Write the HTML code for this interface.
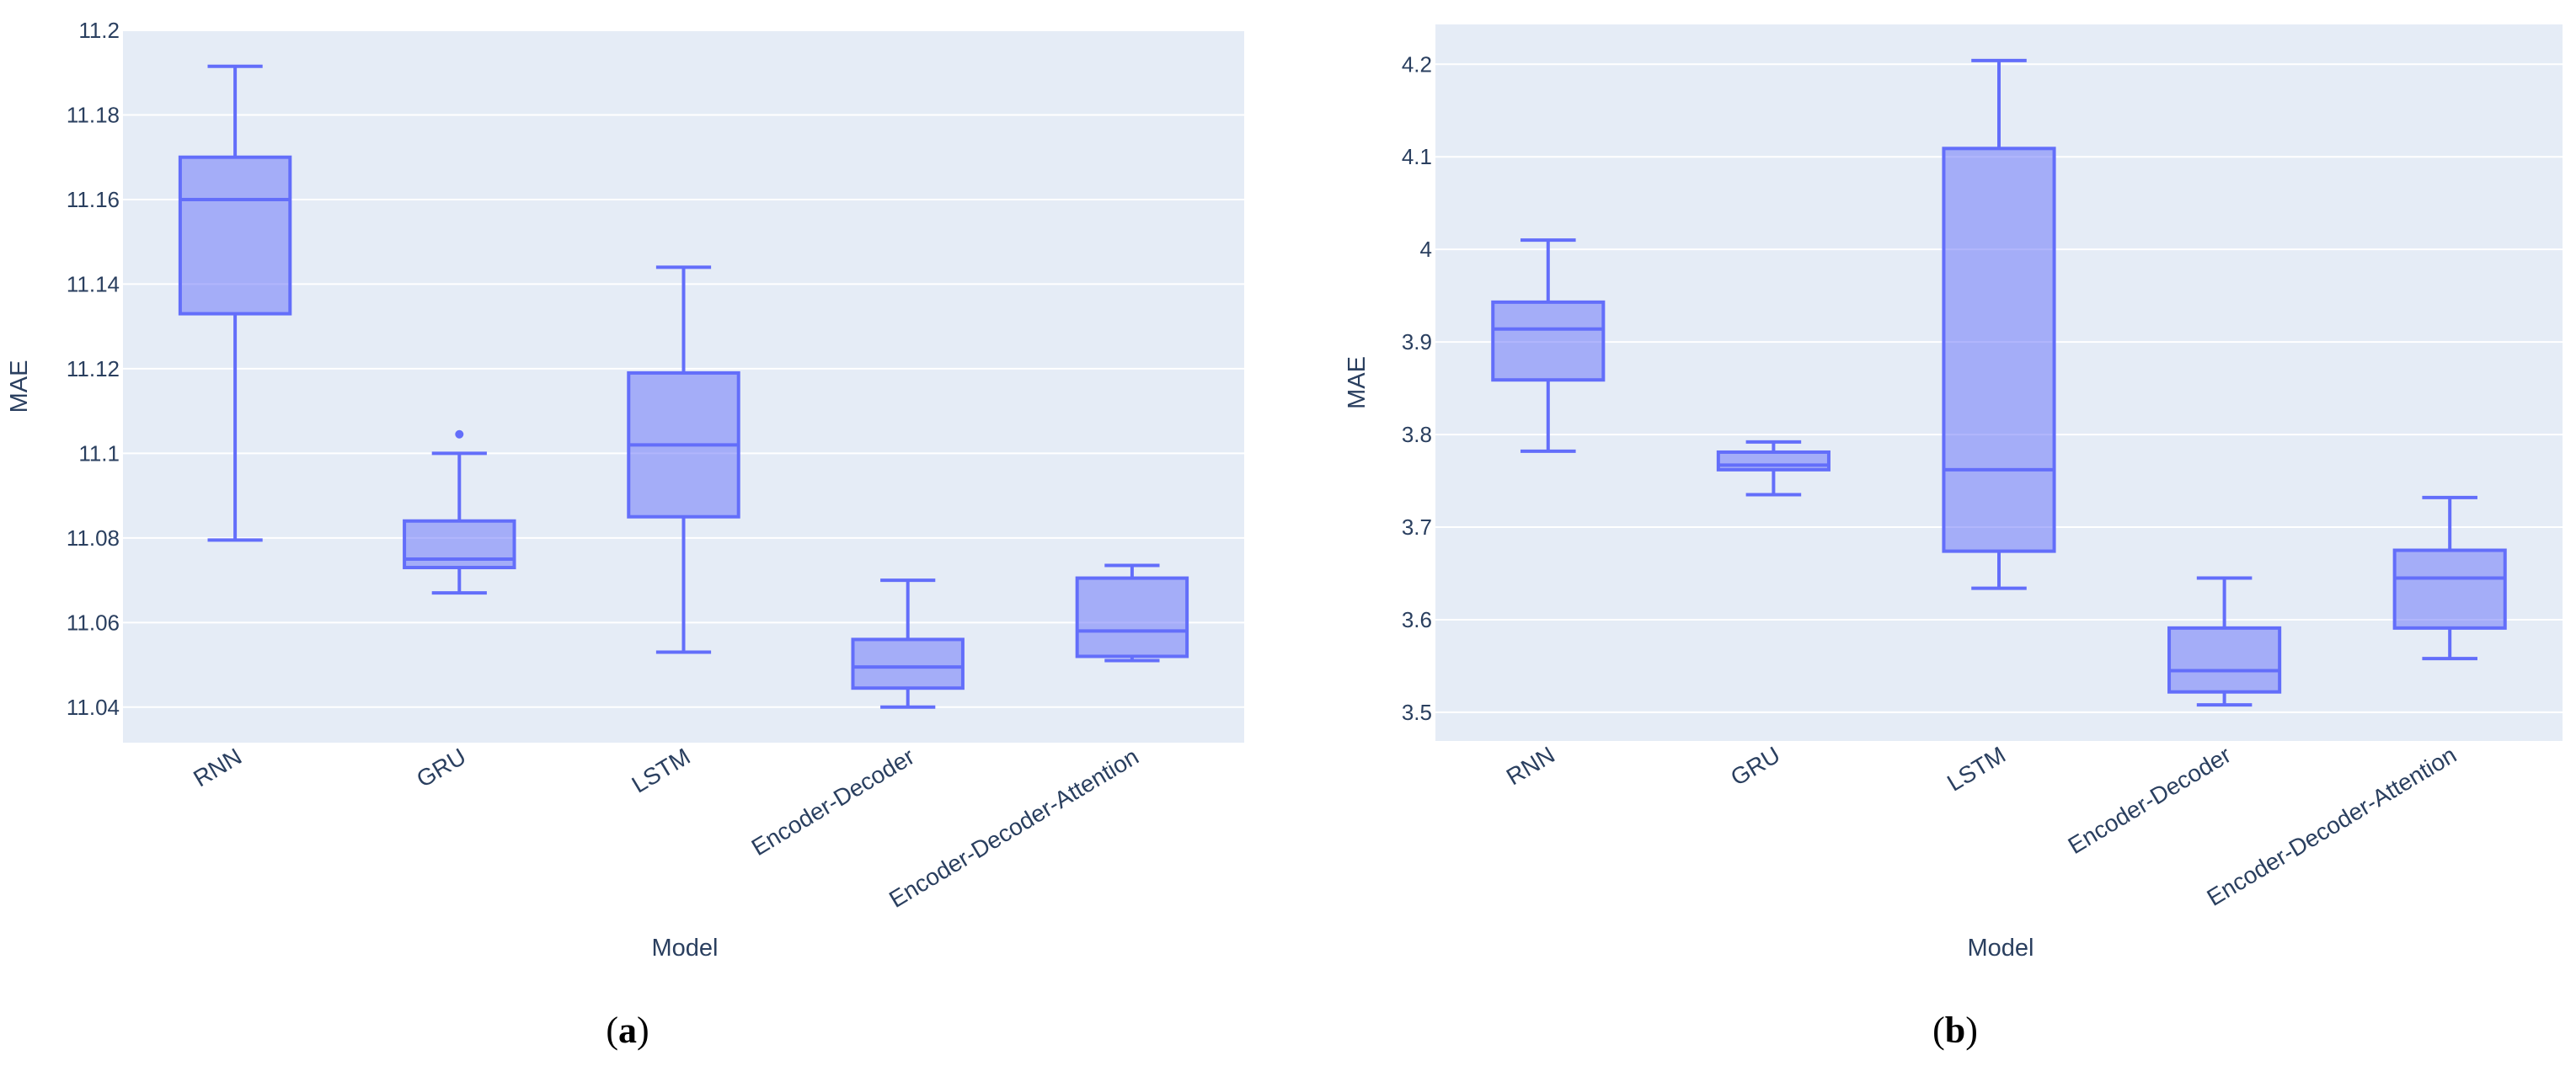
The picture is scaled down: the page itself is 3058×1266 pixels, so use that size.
<!DOCTYPE html>
<html><head><meta charset="utf-8"><style>
html,body{margin:0;padding:0;background:#fff;}
svg{display:block;font-family:"Liberation Sans","DejaVu Sans",sans-serif;}
</style></head><body>
<svg id="fig" width="3058" height="1266" viewBox="0 0 3058 1266"></svg>
<script>
const categories = ["RNN","GRU","LSTM","Encoder-Decoder","Encoder-Decoder-Attention"];
// panel a
const aLower  = [11.0795, 11.067, 11.053, 11.040, 11.051];
const aQ1     = [11.133, 11.073, 11.085, 11.0445, 11.052];
const aMedian = [11.160, 11.075, 11.102, 11.0495, 11.058];
const aQ3     = [11.170, 11.084, 11.119, 11.056, 11.0705];
const aUpper  = [11.1915, 11.100, 11.144, 11.070, 11.0735];
const aOutliers = [[], [11.1045], [], [], []];
const aTicks = [11.04, 11.06, 11.08, 11.1, 11.12, 11.14, 11.16, 11.18, 11.2];
const aTickLabels = ["11.04","11.06","11.08","11.1","11.12","11.14","11.16","11.18","11.2"];
// panel b
const bLower  = [3.782, 3.735, 3.634, 3.508, 3.558];
const bQ1     = [3.859, 3.762, 3.674, 3.522, 3.591];
const bMedian = [3.914, 3.767, 3.762, 3.545, 3.645];
const bQ3     = [3.943, 3.781, 4.109, 3.591, 3.675];
const bUpper  = [4.010, 3.792, 4.204, 3.645, 3.732];
const bOutliers = [[], [], [], [], []];
const bTicks = [3.5, 3.6, 3.7, 3.8, 3.9, 4.0, 4.1, 4.2];
const bTickLabels = ["3.5","3.6","3.7","3.8","3.9","4","4.1","4.2"];

const NS = "http://www.w3.org/2000/svg";
const svg = document.getElementById("fig");
function mk(tag, attrs, parent, text){
  const e = document.createElementNS(NS, tag);
  for (const k in attrs) e.setAttribute(k, attrs[k]);
  if (text !== undefined) e.textContent = text;
  (parent || svg).appendChild(e);
  return e;
}

function panel(cfg){
  const g = mk("g", {});
  
  
  const y = v => cfg.top + (cfg.yMax - v) / (cfg.yMax - cfg.yMin) * (cfg.bottom - cfg.top);
  const step = (cfg.right - cfg.left) / categories.length;
  const x = i => cfg.left + step * (i + 0.5);

  const bg = mk("rect", {x:cfg.left, y:cfg.top, width:cfg.right-cfg.left, height:cfg.bottom-cfg.top, fill:"#e5ecf6"}, g);
  
  

  cfg.ticks.forEach((t, k) => {
    const yy = y(t);
    const gl = mk("line", {x1:cfg.left, x2:cfg.right, y1:yy, y2:yy, stroke:"#fff", "stroke-width":2}, g);
    
    
    const tl = mk("text", {x:cfg.left-4, y:yy+9, "text-anchor":"end", "font-size":26, fill:"#2a3f5f"}, g, cfg.tickLabels[k]);
    
    
  });

  const bw = step * 0.49, cw = step * 0.245;
  categories.forEach((c, i) => {
    const cx = x(i);
    const bx = mk("g", {}, g);
    
    
    const st = {stroke:"#636efa", "stroke-width":4, fill:"none"};
    mk("line", Object.assign({x1:cx, x2:cx, y1:y(cfg.upper[i]), y2:y(cfg.q3[i])}, st), bx);
    mk("line", Object.assign({x1:cx, x2:cx, y1:y(cfg.q1[i]), y2:y(cfg.lower[i])}, st), bx);
    mk("line", Object.assign({x1:cx-cw/2, x2:cx+cw/2, y1:y(cfg.upper[i]), y2:y(cfg.upper[i])}, st), bx);
    mk("line", Object.assign({x1:cx-cw/2, x2:cx+cw/2, y1:y(cfg.lower[i]), y2:y(cfg.lower[i])}, st), bx);
    mk("rect", {x:cx-bw/2, y:y(cfg.q3[i]), width:bw, height:Math.max(1, y(cfg.q1[i])-y(cfg.q3[i])), fill:"rgba(99,110,250,0.5)", stroke:"#636efa", "stroke-width":4}, bx);
    mk("line", Object.assign({x1:cx-bw/2, x2:cx+bw/2, y1:y(cfg.median[i]), y2:y(cfg.median[i])}, st), bx);
    cfg.outliers[i].forEach(o => {
      const p = mk("circle", {cx:cx, cy:y(o), r:5, fill:"#636efa"}, bx);
      
      
    });
    const lx = cx + 10, ly = cfg.bottom + 22;
    const xl = mk("text", {x:lx, y:ly, "text-anchor":"end", "font-size":28, fill:"#2a3f5f", transform:`rotate(-31 ${lx} ${ly})`}, g, c);
    
    
  });

  const xt = mk("text", {x:cfg.xTitleX, y:1135, "text-anchor":"middle", "font-size":29, fill:"#2a3f5f"}, g, "Model");
  
  
  const ty = (cfg.top + cfg.bottom) / 2;
  const yt = mk("text", {x:cfg.yTitleX, y:ty, "text-anchor":"middle", "font-size":29, fill:"#2a3f5f", transform:`rotate(-90 ${cfg.yTitleX} ${ty})`}, g, "MAE");
  
  

  const cap = mk("text", {x:cfg.capX, y:1238, "text-anchor":"middle", "font-size":44, "font-family":"Liberation Serif, serif", fill:"#000"}, g);
  
  
  mk("tspan", {}, cap, "(");
  mk("tspan", {"font-weight":"bold"}, cap, cfg.letter);
  mk("tspan", {}, cap, ")");
}

panel({name:"panel-a", left:146, right:1477, top:36, bottom:882, yMin:11.0316, yMax:11.2,
  lower:aLower, q1:aQ1, median:aMedian, q3:aQ3, upper:aUpper, outliers:aOutliers,
  ticks:aTicks, tickLabels:aTickLabels, xTitleX:813, yTitleX:32, capX:745, letter:"a"});
panel({name:"panel-b", left:1704, right:3042, top:29, bottom:880, yMin:3.469, yMax:4.243,
  lower:bLower, q1:bQ1, median:bMedian, q3:bQ3, upper:bUpper, outliers:bOutliers,
  ticks:bTicks, tickLabels:bTickLabels, xTitleX:2375, yTitleX:1620, capX:2321, letter:"b"});
</script>
</body></html>
